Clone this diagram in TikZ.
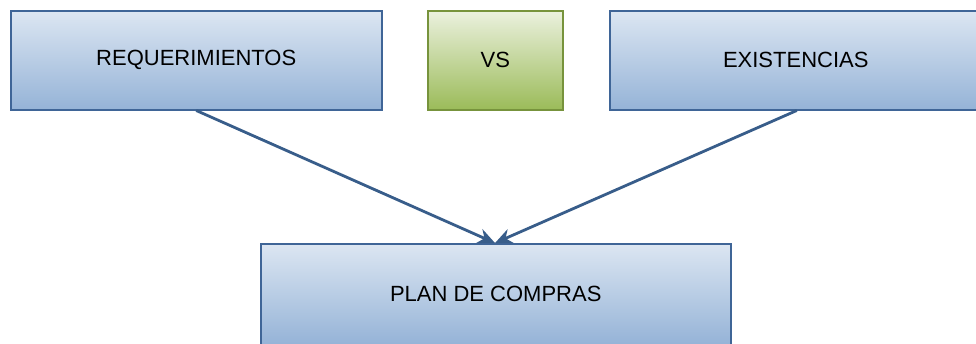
\documentclass[tikz,border=0pt]{standalone}
\usepackage{fontspec}
\setmainfont{Liberation Sans}
\usetikzlibrary{arrows.meta}
\definecolor{bluetop}{HTML}{DCE6F2}
\definecolor{bluebot}{HTML}{95B3D7}
\definecolor{blueline}{HTML}{3F6597}
\definecolor{greentop}{HTML}{EBF1DE}
\definecolor{greenbot}{HTML}{9BBB59}
\definecolor{greenline}{HTML}{77933C}
\definecolor{arrowcol}{HTML}{385D8A}
\tikzset{
  bluebox/.style={draw=blueline, line width=1.5pt, top color=bluetop, bottom color=bluebot, anchor=north west, inner sep=0pt, font=\fontsize{22}{26}\selectfont},
  greenbox/.style={draw=greenline, line width=1.5pt, top color=greentop, bottom color=greenbot, anchor=north west, inner sep=0pt, font=\fontsize{22}{26}\selectfont},
  conn/.style={draw=arrowcol, line width=2.8pt, -{Stealth[length=17pt,width=15pt]}}
}
\begin{document}
\begin{tikzpicture}[x=1pt,y=-1pt]
\useasboundingbox (0,0) rectangle (976,343);
\node[bluebox, minimum width=371pt, minimum height=99pt] (req) at (10,10) {REQUERIMIENTOS};
\node[greenbox, minimum width=135pt, minimum height=99pt] (vs) at (427,10) {VS};
\node[bluebox, minimum width=372pt, minimum height=99pt] (exi) at (609,10) {EXISTENCIAS};
\node[bluebox, minimum width=470pt, minimum height=101pt] (plan) at (260,243) {PLAN DE COMPRAS};
\coordinate (t) at (495,243);
\draw[conn] (req.south) -- (t);
\draw[conn] ([xshift=1pt]exi.south) -- (t);
\end{tikzpicture}
\end{document}
